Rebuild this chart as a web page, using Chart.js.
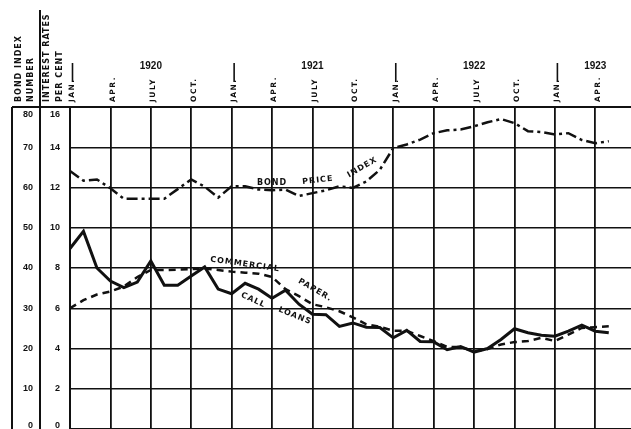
<!DOCTYPE html>
<html>
<head>
<meta charset="utf-8">
<script src="https://cdn.jsdelivr.net/npm/chart.js@4/dist/chart.umd.min.js"></script>
<style>
html, body { margin: 0; padding: 0; background: #fff; }
</style>
</head>
<body>
<canvas id="chart" width="631" height="429"></canvas>
<script>
// monthly points, Jan 1920 .. May 1923
const months = [
  '1920-01','1920-02','1920-03','1920-04','1920-05','1920-06','1920-07','1920-08','1920-09','1920-10','1920-11','1920-12',
  '1921-01','1921-02','1921-03','1921-04','1921-05','1921-06','1921-07','1921-08','1921-09','1921-10','1921-11','1921-12',
  '1922-01','1922-02','1922-03','1922-04','1922-05','1922-06','1922-07','1922-08','1922-09','1922-10','1922-11','1922-12',
  '1923-01','1923-02','1923-03','1923-04','1923-05'
];
// per cent
const callLoans = [
  8.97, 9.82, 8.0, 7.35, 7.03, 7.3, 8.35, 7.14, 7.14, 7.6, 8.05, 6.95,
  6.72, 7.24, 6.95, 6.5, 6.9, 6.2, 5.7, 5.68, 5.1, 5.27, 5.06, 5.04,
  4.53, 4.9, 4.35, 4.33, 3.94, 4.1, 3.82, 4.0, 4.45, 4.98, 4.78, 4.66,
  4.61, 4.86, 5.16, 4.86, 4.78
];
const commercialPaper = [
  6.0, 6.4, 6.68, 6.83, 7.08, 7.55, 7.9, 7.9, 7.92, 7.95, 7.97, 7.9,
  7.82, 7.77, 7.72, 7.55, 6.95, 6.6, 6.2, 6.05, 5.85, 5.55, 5.2, 5.08,
  4.88, 4.88, 4.62, 4.37, 4.08, 4.07, 3.87, 3.97, 4.2, 4.32, 4.37, 4.53,
  4.37, 4.69, 5.02, 5.06, 5.1
];
// index number
const bondIndex = [
  64.1, 61.7, 62.0, 59.8, 57.2, 57.2, 57.2, 57.2, 59.6, 62.0, 60.2, 57.5,
  60.3, 60.3, 59.5, 59.3, 59.5, 57.9, 58.6, 59.3, 60.3, 59.9, 61.5, 64.4,
  69.8, 70.7, 71.9, 73.5, 74.2, 74.4, 75.2, 76.2, 77.0, 76.0, 74.0, 73.8,
  73.2, 73.5, 71.8, 71.0, 71.5
];

const tickMonths = [0, 3, 6, 9, 12, 15, 18, 21, 24, 27, 30, 33, 36, 39];
const tickLabels = ['JAN.', 'APR.', 'JULY', 'OCT.', 'JAN.', 'APR.', 'JULY', 'OCT.', 'JAN.', 'APR.', 'JULY', 'OCT.', 'JAN.', 'APR.'];
const years = ['1920', '1921', '1922', '1923'];
const yearMonths = [6, 18, 30, 39];

// words written along the curves: month, rate, angle
const curveWords = [
  ['BOND', 15.0, 12.24, 0],
  ['PRICE', 18.4, 12.36, -6],
  ['INDEX', 21.7, 13.0, -30],
  ['COMMERCIAL', 13.0, 8.18, 8],
  ['PAPER.', 18.2, 6.9, 30],
  ['CALL', 13.6, 6.4, 25],
  ['LOANS', 16.7, 5.62, 22]
];

const ink = '#111';
const labelFont = 'bold 8px "DejaVu Sans", sans-serif';
const numFont = 'bold 9px "Liberation Sans", sans-serif';

function pts(vals) {
  return vals.map((v, i) => ({ x: i, y: v }));
}

function upText(ctx, s, cx, bottom) {
  ctx.save();
  ctx.translate(cx, bottom);
  ctx.rotate(-Math.PI / 2);
  ctx.textAlign = 'left';
  ctx.textBaseline = 'middle';
  ctx.fillText(s, 0, 0);
  ctx.restore();
}

function seg(ctx, x1, y1, x2, y2) {
  ctx.beginPath();
  ctx.moveTo(x1, y1);
  ctx.lineTo(x2, y2);
  ctx.stroke();
}

// the end labels sit inside the frame, not on their lines
function endLabel(v, i, ticks) {
  return (i === 0 || i === ticks.length - 1) ? '' : String(v);
}

const decor = {
  id: 'decor',
  afterDraw(chart) {
    const ctx = chart.ctx;
    const xs = chart.scales.x, ys = chart.scales.y, yi = chart.scales.yIdx;
    const top = chart.chartArea.top;
    ctx.save();
    ctx.strokeStyle = ink;
    ctx.fillStyle = ink;

    // column rules
    ctx.lineWidth = 2;
    seg(ctx, 12, top, 12, 429);
    seg(ctx, 40, 10, 40, 429);
    seg(ctx, 12, top, 631, top);

    // top and bottom scale numbers
    ctx.font = numFont;
    ctx.textAlign = 'right';
    ctx.textBaseline = 'middle';
    ctx.fillText(String(yi.max), 33, 115);
    ctx.fillText(String(ys.max), 60, 115);
    ctx.fillText(String(yi.min), 33, 426);
    ctx.fillText(String(ys.min), 60, 426);

    // axis headings
    ctx.font = labelFont;
    ctx.letterSpacing = '1px';
    upText(ctx, 'BOND INDEX', 18.5, 102);
    upText(ctx, 'NUMBER', 30.5, 102);
    upText(ctx, 'INTEREST RATES', 46.5, 102);
    upText(ctx, 'PER CENT', 59.5, 102);

    // month names
    ctx.font = 'bold 7.5px "DejaVu Sans", sans-serif';
    ctx.letterSpacing = '1.5px';
    tickMonths.forEach((m, i) => {
      const px = xs.getPixelForValue(m) + 2.5;
      upText(ctx, tickLabels[i], px, 102);
      if (tickLabels[i] === 'JAN.') {
        ctx.lineWidth = 1.6;
        seg(ctx, px, 63, px, 82);
      }
    });

    // years
    ctx.letterSpacing = '0px';
    ctx.font = 'bold 10px "Liberation Sans", sans-serif';
    ctx.textAlign = 'center';
    ctx.textBaseline = 'middle';
    years.forEach((y, i) => {
      ctx.fillText(y, xs.getPixelForValue(yearMonths[i]), 66);
    });

    // curve names
    ctx.font = labelFont;
    ctx.letterSpacing = '1px';
    curveWords.forEach(([s, m, v, a]) => {
      ctx.save();
      ctx.translate(xs.getPixelForValue(m), ys.getPixelForValue(v));
      ctx.rotate(a * Math.PI / 180);
      ctx.textAlign = 'center';
      ctx.textBaseline = 'middle';
      ctx.fillText(s, 0, 0);
      ctx.restore();
    });
    ctx.restore();
  }
};

function fixLeft(w) {
  return s => {
    s.width = w;
    s.paddingTop = 0;
    s.paddingBottom = 0;
  };
}

new Chart(document.getElementById('chart'), {
  type: 'line',
  data: {
    datasets: [
      {
        label: 'Call loans',
        data: pts(callLoans),
        yAxisID: 'y',
        borderColor: ink,
        borderWidth: 3,
        pointRadius: 0,
        tension: 0
      },
      {
        label: 'Commercial paper',
        data: pts(commercialPaper),
        yAxisID: 'y',
        borderColor: ink,
        borderWidth: 2.5,
        borderDash: [7, 5],
        pointRadius: 0,
        tension: 0
      },
      {
        label: 'Bond price index',
        data: pts(bondIndex),
        yAxisID: 'yIdx',
        borderColor: ink,
        borderWidth: 2.5,
        borderDash: [11, 4, 3, 4],
        pointRadius: 0,
        tension: 0
      }
    ]
  },
  options: {
    responsive: false,
    animation: false,
    devicePixelRatio: 1,
    layout: { padding: { left: 12, top: 107, right: 0, bottom: -3 } },
    plugins: { legend: { display: false }, tooltip: { enabled: false } },
    scales: {
      x: {
        type: 'linear',
        position: 'top',
        min: 0,
        max: 41.65,
        afterBuildTicks: s => { s.ticks = tickMonths.map(v => ({ value: v })); },
        ticks: { display: false },
        grid: { color: ink, lineWidth: 1.8, drawTicks: false },
        border: { display: false }
      },
      yIdx: {
        position: 'left',
        weight: 1,
        min: 0,
        max: 80,
        afterFit: fixLeft(28),
        ticks: { stepSize: 10, color: ink, padding: 7, callback: endLabel, font: { family: 'Liberation Sans', weight: 'bold', size: 9 } },
        grid: { drawOnChartArea: false, drawTicks: false },
        border: { display: false }
      },
      y: {
        position: 'left',
        weight: 0,
        min: 0,
        max: 16,
        afterFit: fixLeft(30),
        ticks: { stepSize: 2, color: ink, padding: 10, callback: endLabel, font: { family: 'Liberation Sans', weight: 'bold', size: 9 } },
        grid: { color: ink, lineWidth: 1.5, drawTicks: false },
        border: { color: ink, width: 2 }
      }
    }
  },
  plugins: [decor]
});
</script>
</body>
</html>
